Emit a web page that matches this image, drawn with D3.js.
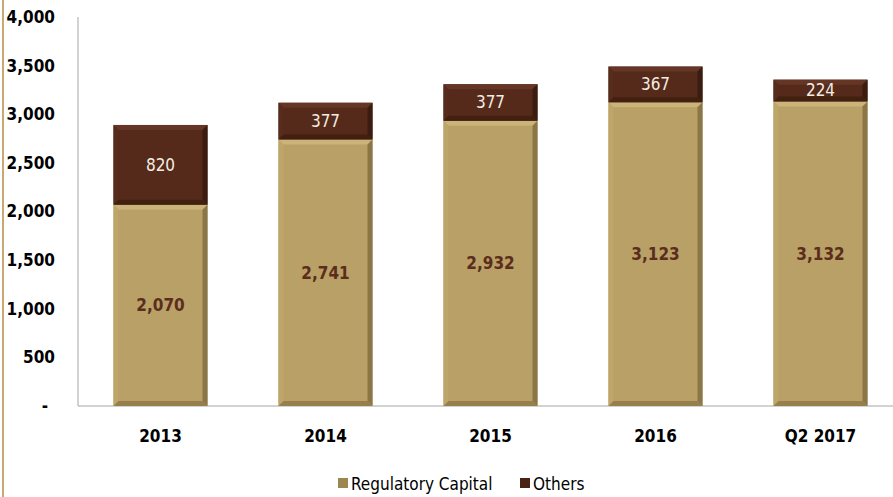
<!DOCTYPE html>
<html>
<head>
<meta charset="utf-8">
<script src="https://cdn.jsdelivr.net/npm/d3@7"></script>
<style>
  body { margin: 0; background: #fff; }
  svg text { font-family: "Liberation Sans Narrow", "DejaVu Sans Condensed", sans-serif; }
</style>
</head>
<body>
<div id="chart"></div>
<script>
// chart data
const years = ["2013", "2014", "2015", "2016", "Q2 2017"];
const regulatoryCapital = [2070, 2741, 2932, 3123, 3132];
const others = [820, 377, 377, 367, 224];
const yTicks = [0, 500, 1000, 1500, 2000, 2500, 3000, 3500, 4000];
const seriesNames = ["Regulatory Capital", "Others"];

const width = 893, height = 497;
const margin = {top: 17, left: 78, bottom: 91};

const svg = d3.select("#chart").append("svg")
    .attr("width", width)
    .attr("height", height);

// tan frame line on the left edge
svg.append("line")
    .attr("x1", 3).attr("x2", 3)
    .attr("y1", 0).attr("y2", height)
    .attr("stroke", "#c9a873")
    .attr("stroke-width", 2);

const x = d3.scaleBand()
    .domain(years)
    .range([margin.left, margin.left + 5 * 165])
    .paddingInner(0.43)
    .paddingOuter(0.215);

const y = d3.scaleLinear()
    .domain([0, 4000])
    .range([height - margin.bottom, margin.top]);

// axes lines
svg.append("line")
    .attr("x1", margin.left).attr("x2", margin.left)
    .attr("y1", y(4000)).attr("y2", y(0))
    .attr("stroke", "#a6a6a6");
svg.append("line")
    .attr("x1", margin.left).attr("x2", width)
    .attr("y1", y(0)).attr("y2", y(0))
    .attr("stroke", "#a6a6a6");

// y tick labels
svg.append("g")
    .selectAll("text")
    .data(yTicks)
    .enter().append("text")
    .attr("x", d => d === 0 ? 45 : 55)
    .attr("y", d => y(d))
    .attr("dy", "0.35em")
    .attr("text-anchor", d => d === 0 ? "middle" : "end")
    .attr("font-size", 17)
    .attr("font-weight", "bold")
    .attr("fill", "#000")
    .text(d => d === 0 ? "-" : d3.format(",")(d));

// x labels
svg.append("g")
    .selectAll("text")
    .data(years)
    .enter().append("text")
    .attr("x", d => x(d) + x.bandwidth() / 2)
    .attr("y", 442)
    .attr("text-anchor", "middle")
    .attr("font-size", 17)
    .attr("font-weight", "bold")
    .attr("fill", "#000")
    .text(d => d);

// bevelled rectangle, Excel style
const styles = {
    reg: {main: "#b9a066", top: "#cbb379", left: "#bea66b", right: "#8b7647", bottom: "#977f4d"},
    oth: {main: "#552a1b", top: "#653625", left: "#582c1d", right: "#3b1c10", bottom: "#42200f"}
};

function bevelRect(g, x0, y0, w, h, s) {
    const b = Math.min(5, h / 3);
    g.append("rect").attr("x", x0).attr("y", y0).attr("width", w).attr("height", h).attr("fill", s.main);
    const poly = pts => g.append("polygon").attr("points", pts.map(p => p.join(",")).join(" "));
    poly([[x0, y0], [x0 + w, y0], [x0 + w - b, y0 + b], [x0 + b, y0 + b]]).attr("fill", s.top);
    poly([[x0, y0], [x0 + b, y0 + b], [x0 + b, y0 + h - b], [x0, y0 + h]]).attr("fill", s.left);
    poly([[x0 + w, y0], [x0 + w, y0 + h], [x0 + w - b, y0 + h - b], [x0 + w - b, y0 + b]]).attr("fill", s.right);
    poly([[x0, y0 + h], [x0 + b, y0 + h - b], [x0 + w - b, y0 + h - b], [x0 + w, y0 + h]]).attr("fill", s.bottom);
}

const bars = svg.append("g");
years.forEach((yr, i) => {
    const g = bars.append("g");
    const bx = x(yr), bw = x.bandwidth();
    const r = regulatoryCapital[i], o = others[i];
    bevelRect(g, bx, y(r), bw, y(0) - y(r), styles.reg);
    bevelRect(g, bx, y(r + o), bw, y(r) - y(r + o), styles.oth);
    g.append("text")
        .attr("x", bx + bw / 2)
        .attr("y", (y(0) + y(r)) / 2)
        .attr("dy", "0.35em")
        .attr("text-anchor", "middle")
        .attr("font-size", 17)
        .attr("font-weight", "bold")
        .attr("fill", "#5a2d1c")
        .text(d3.format(",")(r));
    g.append("text")
        .attr("x", bx + bw / 2)
        .attr("y", (y(r) + y(r + o)) / 2)
        .attr("dy", "0.35em")
        .attr("text-anchor", "middle")
        .attr("font-size", 17)
        .attr("fill", "#f4eee2")
        .text(d3.format(",")(o));
});

// legend
const legend = svg.append("g");
const legendItems = [
    {name: seriesNames[0], x: 338, color: "#9c874f"},
    {name: seriesNames[1], x: 520, color: "#4a2213"}
];
legendItems.forEach(d => {
    legend.append("rect")
        .attr("x", d.x).attr("y", 478)
        .attr("width", 10).attr("height", 10)
        .attr("fill", d.color);
    legend.append("text")
        .attr("x", d.x + 13).attr("y", 484)
        .attr("dy", "0.35em")
        .attr("font-size", 17)
        .attr("fill", "#000")
        .text(d.name);
});
</script>
</body>
</html>
